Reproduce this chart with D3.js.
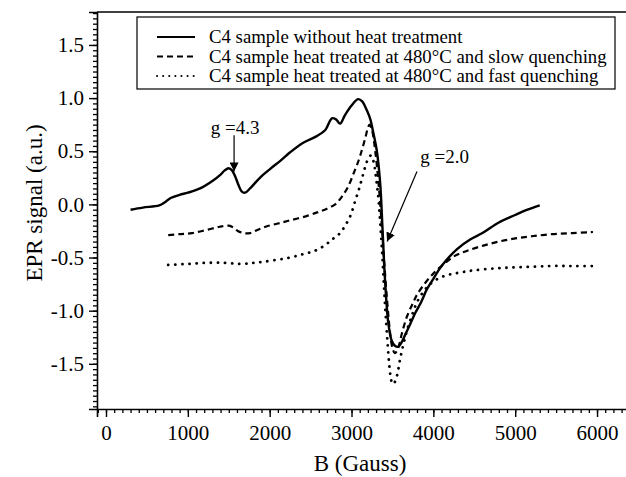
<!DOCTYPE html>
<html>
<head>
<meta charset="utf-8">
<script src="https://cdn.jsdelivr.net/npm/d3@7"></script>
<style>
  body { margin: 0; background: #fff; }
  svg { display: block; }
  svg text { font-family: "Liberation Serif", "Times New Roman", serif !important; fill: #000; }
</style>
</head>
<body>
<svg width="626" height="477"></svg>
<script>
// Series data (B in Gauss, EPR signal in a.u.)
const untreatedB = [300, 450, 650, 720, 790, 900, 1000, 1150, 1300, 1400, 1450, 1500, 1540, 1580, 1620, 1660, 1700, 1760, 1880, 2000, 2130, 2250, 2410, 2570, 2680, 2760, 2810, 2860, 2920, 3000, 3080, 3130, 3190, 3230, 3270, 3310, 3350, 3380, 3410, 3450, 3490, 3530, 3570, 3610, 3660, 3715, 3780, 3850, 3920, 4000, 4100, 4290, 4450, 4600, 4800, 5000, 5150, 5300];
const untreatedY = [-0.05, -0.03, -0.01, 0.02, 0.06, 0.09, 0.11, 0.15, 0.22, 0.28, 0.32, 0.34, 0.32, 0.26, 0.18, 0.12, 0.11, 0.15, 0.25, 0.33, 0.41, 0.49, 0.58, 0.64, 0.70, 0.81, 0.80, 0.76, 0.84, 0.93, 0.99, 0.97, 0.88, 0.80, 0.66, 0.50, 0.20, -0.25, -0.72, -1.12, -1.28, -1.33, -1.34, -1.30, -1.22, -1.13, -1.02, -0.92, -0.80, -0.70, -0.58, -0.42, -0.33, -0.27, -0.17, -0.10, -0.05, -0.01];

const slowB = [760, 900, 1050, 1230, 1390, 1500, 1560, 1610, 1680, 1760, 1850, 1950, 2100, 2250, 2450, 2600, 2700, 2800, 2880, 2960, 3030, 3090, 3130, 3170, 3200, 3220, 3250, 3290, 3330, 3370, 3400, 3440, 3470, 3500, 3530, 3570, 3620, 3680, 3750, 3800, 3900, 4000, 4100, 4250, 4400, 4600, 4800, 5000, 5200, 5450, 5700, 5950];
const slowY = [-0.29, -0.28, -0.27, -0.24, -0.21, -0.20, -0.22, -0.25, -0.27, -0.27, -0.24, -0.21, -0.18, -0.15, -0.11, -0.07, -0.04, 0.00, 0.07, 0.17, 0.30, 0.42, 0.52, 0.63, 0.72, 0.75, 0.70, 0.50, 0.20, -0.20, -0.55, -0.95, -1.20, -1.35, -1.40, -1.35, -1.20, -1.05, -0.93, -0.85, -0.74, -0.65, -0.58, -0.49, -0.44, -0.39, -0.35, -0.32, -0.30, -0.28, -0.27, -0.26];

const fastB = [760, 1000, 1230, 1450, 1640, 1800, 1920, 2100, 2250, 2400, 2500, 2600, 2700, 2780, 2860, 2930, 2990, 3040, 3090, 3130, 3170, 3210, 3240, 3270, 3300, 3330, 3370, 3410, 3440, 3460, 3480, 3500, 3530, 3560, 3590, 3630, 3680, 3750, 3800, 3880, 3960, 4080, 4200, 4330, 4500, 4800, 5100, 5430, 5700, 5950];
const fastY = [-0.57, -0.56, -0.55, -0.55, -0.56, -0.55, -0.54, -0.52, -0.50, -0.47, -0.45, -0.42, -0.37, -0.32, -0.27, -0.19, -0.10, 0.02, 0.14, 0.25, 0.36, 0.44, 0.46, 0.40, 0.25, 0.04, -0.40, -0.95, -1.30, -1.50, -1.63, -1.69, -1.67, -1.60, -1.47, -1.33, -1.18, -1.02, -0.92, -0.82, -0.75, -0.69, -0.66, -0.64, -0.62, -0.60, -0.59, -0.58, -0.58, -0.58];

const seriesNames = [
  "C4 sample without heat treatment",
  "C4 sample heat treated at 480\u00B0C and slow quenching",
  "C4 sample heat treated at 480\u00B0C and fast quenching"
];
const xTicks = [0, 1000, 2000, 3000, 4000, 5000, 6000];
const yTicks = [-1.5, -1.0, -0.5, 0.0, 0.5, 1.0, 1.5];

// Frame
const plotLeft = 97, plotRight = 640, plotTop = 12, plotBottom = 409;

const svg = d3.select("svg");

const x = d3.scaleLinear().domain([-110, 6525]).range([plotLeft, plotRight]);
const y = d3.scaleLinear().domain([-1.925, 1.81]).range([plotBottom, plotTop]);

// Axes: major + minor ticks drawn as separate axes
const xMinor = d3.range(-100, 6500, 100);
const yMinor = d3.range(-1.9, 1.81, 0.05);

svg.append("g")
    .attr("transform", `translate(0,${plotBottom})`)
    .call(d3.axisBottom(x).tickValues(xMinor).tickSize(4).tickFormat(""))
    .call(g => g.select(".domain").remove())
    .call(g => g.selectAll("line").attr("stroke-width", 1.3));

svg.append("g")
    .attr("transform", `translate(0,${plotBottom})`)
    .call(d3.axisBottom(x).tickValues(xTicks).tickSize(8).tickPadding(8).tickFormat(d => String(d)))
    .call(g => g.select(".domain").attr("stroke-width", 1.6))
    .call(g => g.selectAll("line").attr("stroke-width", 1.4))
    .call(g => g.selectAll("text").attr("font-size", 21));

svg.append("g")
    .attr("transform", `translate(${plotLeft},0)`)
    .call(d3.axisLeft(y).tickValues(yMinor).tickSize(4).tickFormat(""))
    .call(g => g.select(".domain").remove())
    .call(g => g.selectAll("line").attr("stroke-width", 1.3));

svg.append("g")
    .attr("transform", `translate(${plotLeft},0)`)
    .call(d3.axisLeft(y).tickValues(yTicks).tickSize(8).tickPadding(5).tickFormat(d => d.toFixed(1)))
    .call(g => g.select(".domain").attr("stroke-width", 1.6))
    .call(g => g.selectAll("line").attr("stroke-width", 1.4))
    .call(g => g.selectAll("text").attr("font-size", 21));

// top border
svg.append("line")
    .attr("x1", plotLeft).attr("x2", plotRight)
    .attr("y1", plotTop).attr("y2", plotTop)
    .attr("stroke", "#000").attr("stroke-width", 1.6);

// Axis titles
svg.append("text")
    .attr("x", 360).attr("y", 471)
    .attr("text-anchor", "middle")
    .attr("font-size", 23)
    .text("B (Gauss)");

svg.append("text")
    .attr("transform", "translate(42,203) rotate(-90)")
    .attr("text-anchor", "middle")
    .attr("font-size", 23)
    .text("EPR signal (a.u.)");

// Curves
const line = d3.line()
    .x(d => x(d[0]))
    .y(d => y(d[1]))
    .curve(d3.curveCatmullRom.alpha(0.5));

const styles = [
  { dash: null, width: 2.4, cap: "butt" },
  { dash: "6,4", width: 2.2, cap: "butt" },
  { dash: "0.1,7", width: 2.8, cap: "round" }
];

const series = [
  d3.zip(untreatedB, untreatedY),
  d3.zip(slowB, slowY),
  d3.zip(fastB, fastY)
];

svg.selectAll("path.curve")
    .data(series)
    .enter()
    .append("path")
    .attr("class", "curve")
    .attr("d", line)
    .attr("fill", "none")
    .attr("stroke", "#000")
    .attr("stroke-width", (d, i) => styles[i].width)
    .attr("stroke-linecap", (d, i) => styles[i].cap)
    .attr("stroke-dasharray", (d, i) => styles[i].dash);

// Annotations
svg.append("defs").append("marker")
    .attr("id", "arrow")
    .attr("viewBox", "0 0 10 10")
    .attr("refX", 10).attr("refY", 5)
    .attr("markerWidth", 9).attr("markerHeight", 9)
    .attr("markerUnits", "userSpaceOnUse")
    .attr("orient", "auto")
    .append("path")
    .attr("d", "M0,0 L10,5 L0,10 Z")
    .attr("fill", "#000");

const notes = [
  { label: "g =4.3", tx: 1280, ty: 0.66, from: [1565, 0.65], to: [1565, 0.31] },
  { label: "g =2.0", tx: 3840, ty: 0.39, from: [3800, 0.31], to: [3435, -0.35] }
];

notes.forEach(n => {
  svg.append("text")
      .attr("x", x(n.tx)).attr("y", y(n.ty))
      .attr("font-size", 19)
      .text(n.label);
  svg.append("line")
      .attr("x1", x(n.from[0])).attr("y1", y(n.from[1]))
      .attr("x2", x(n.to[0])).attr("y2", y(n.to[1]))
      .attr("stroke", "#000").attr("stroke-width", 1.2)
      .attr("marker-end", "url(#arrow)");
});

// Legend
const legend = svg.append("g");
legend.append("rect")
    .attr("x", 137).attr("y", 17)
    .attr("width", 478).attr("height", 72)
    .attr("fill", "#fff")
    .attr("stroke", "#000").attr("stroke-width", 1.2);

seriesNames.forEach((name, i) => {
  const ly = 37 + i * 19.5;
  legend.append("line")
      .attr("x1", 157).attr("x2", 195)
      .attr("y1", ly).attr("y2", ly)
      .attr("stroke", "#000")
      .attr("stroke-width", i === 0 ? 2.2 : 2)
      .attr("stroke-linecap", styles[i].cap)
      .attr("stroke-dasharray", i === 2 ? "0.1,6" : styles[i].dash);
  legend.append("text")
      .attr("x", 209).attr("y", ly + 6)
      .attr("font-size", 18.8)
      .text(name);
});
</script>
</body>
</html>
